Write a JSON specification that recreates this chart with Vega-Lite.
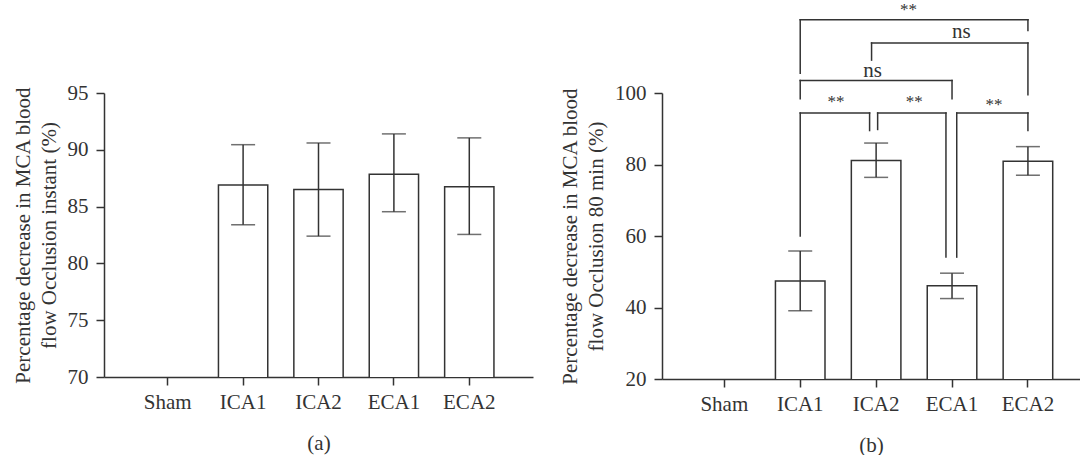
{
  "$schema": "https://vega.github.io/schema/vega-lite/v6.json",
  "background": "white",
  "padding": {"left": 11, "top": 0, "right": 0, "bottom": 0},
  "bounds": "flush",
  "spacing": 129,
  "config": {
    "font": "Liberation Serif",
    "view": {"stroke": null},
    "axis": {
      "domainColor": "#333333", "tickColor": "#333333", "labelColor": "#333333", "titleColor": "#333333",
      "labelFont": "Liberation Serif", "titleFont": "Liberation Serif",
      "labelFontSize": 21, "titleFontSize": 21, "titleFontWeight": "normal",
      "grid": false, "domainWidth": 1.5, "tickWidth": 1.5, "tickSize": 8
    }
  },
  "datasets": {
    "instant": [
      {"group": "Sham", "mean": null, "low": null, "high": null},
      {"group": "ICA1", "mean": 86.9, "low": 83.4, "high": 90.45},
      {"group": "ICA2", "mean": 86.5, "low": 82.4, "high": 90.6},
      {"group": "ECA1", "mean": 87.85, "low": 84.55, "high": 91.4},
      {"group": "ECA2", "mean": 86.75, "low": 82.55, "high": 91.05}
    ],
    "min80": [
      {"group": "Sham", "mean": null, "low": null, "high": null},
      {"group": "ICA1", "mean": 47.4, "low": 39.1, "high": 55.8},
      {"group": "ICA2", "mean": 81.1, "low": 76.4, "high": 86.0},
      {"group": "ECA1", "mean": 46.1, "low": 42.5, "high": 49.6},
      {"group": "ECA2", "mean": 80.9, "low": 77.0, "high": 85.0}
    ],
    "brackets": [
      {"pair": "ICA1-ICA2", "left": 1.0, "right": 1.914, "level": 94.4, "leftEnd": 60.0, "rightEnd": 89.5, "label": "**", "labelX": 1.471, "labelY": 97.6},
      {"pair": "ICA2-ECA1", "left": 2.02, "right": 2.92, "level": 94.4, "leftEnd": 89.8, "rightEnd": 54.1, "label": "**", "labelX": 2.503, "labelY": 97.6},
      {"pair": "ECA1-ECA2", "left": 3.062, "right": 4.0, "level": 94.4, "leftEnd": 54.1, "rightEnd": 89.5, "label": "**", "labelX": 3.553, "labelY": 96.6},
      {"pair": "ICA1-ECA1", "left": 1.0, "right": 3.0, "level": 103.5, "leftEnd": 98.4, "rightEnd": 98.4, "label": "ns", "labelX": 1.954, "labelY": 106.2},
      {"pair": "ICA2-ECA2", "left": 1.94, "right": 4.0, "level": 114.0, "leftEnd": 109.2, "rightEnd": 99.5, "label": "ns", "labelX": 3.122, "labelY": 117.1},
      {"pair": "ICA1-ECA2", "left": 1.0, "right": 4.0, "level": 120.5, "leftEnd": 105.5, "rightEnd": 117.5, "label": "**", "labelX": 2.428, "labelY": 123.3}
    ]
  },
  "hconcat": [
    {
      "width": 429,
      "height": 284,
      "data": {"name": "instant"},
      "encoding": {
        "x": {
          "field": "group", "type": "nominal", "sort": null,
          "scale": {"domain": ["Sham", "ICA1", "ICA2", "ECA1", "ECA2"], "paddingInner": 0.346, "paddingOuter": 0.518},
          "axis": {"title": "(a)", "labelAngle": 0, "labelPadding": 6, "titlePadding": 20}
        }
      },
      "layer": [
        {
          "mark": {"type": "bar", "fill": "white", "stroke": "#333333", "strokeWidth": 1.5, "clip": true},
          "encoding": {
            "y": {
              "field": "mean", "type": "quantitative",
              "scale": {"domain": [70, 95], "zero": false, "nice": false},
              "axis": {"title": ["Percentage decrease in MCA blood", "flow Occlusion instant (%)"], "values": [70, 75, 80, 85, 90, 95], "labelPadding": 8, "titlePadding": 8, "titleLineHeight": 26}
            }
          }
        },
        {
          "mark": {"type": "rule", "color": "#333333", "strokeWidth": 1.5},
          "encoding": {
            "y": {"field": "low", "type": "quantitative"},
            "y2": {"field": "high"}
          }
        },
        {
          "mark": {"type": "tick", "color": "#333333", "thickness": 1.5, "size": 24},
          "encoding": {"y": {"field": "low", "type": "quantitative"}}
        },
        {
          "mark": {"type": "tick", "color": "#333333", "thickness": 1.5, "size": 24},
          "encoding": {"y": {"field": "high", "type": "quantitative"}}
        }
      ]
    },
    {
      "width": 418,
      "height": 286,
      "resolve": {"scale": {"x": "independent"}},
      "layer": [
        {
          "data": {"name": "min80"},
          "encoding": {
            "x": {
              "field": "group", "type": "nominal", "sort": null,
              "scale": {"domain": ["Sham", "ICA1", "ICA2", "ECA1", "ECA2"], "paddingInner": 0.347, "paddingOuter": 0.427, "align": 0.579},
              "axis": {"title": "(b)", "labelAngle": 0, "labelPadding": 6, "titlePadding": 20}
            }
          },
          "layer": [
            {
              "mark": {"type": "bar", "fill": "white", "stroke": "#333333", "strokeWidth": 1.5, "clip": true},
              "encoding": {
                "y": {
                  "field": "mean", "type": "quantitative",
                  "scale": {"domain": [20, 100], "zero": false, "nice": false},
                  "axis": {"title": ["Percentage decrease in MCA blood", "flow Occlusion 80 min (%)"], "values": [20, 40, 60, 80, 100], "labelPadding": 8, "titlePadding": 8, "titleLineHeight": 26}
                }
              }
            },
            {
              "mark": {"type": "rule", "color": "#333333", "strokeWidth": 1.5},
              "encoding": {
                "y": {"field": "low", "type": "quantitative"},
                "y2": {"field": "high"}
              }
            },
            {
              "mark": {"type": "tick", "color": "#333333", "thickness": 1.5, "size": 24},
              "encoding": {"y": {"field": "low", "type": "quantitative"}}
            },
            {
              "mark": {"type": "tick", "color": "#333333", "thickness": 1.5, "size": 24},
              "encoding": {"y": {"field": "high", "type": "quantitative"}}
            }
          ]
        },
        {
          "data": {"name": "brackets"},
          "layer": [
            {
              "mark": {"type": "rule", "color": "#333333", "strokeWidth": 1.5, "strokeCap": "square"},
              "encoding": {
                "x": {"field": "left", "type": "quantitative", "scale": {"domain": [-0.821, 4.686], "nice": false, "zero": false}, "axis": null},
                "x2": {"field": "right"},
                "y": {"field": "level", "type": "quantitative"}
              }
            },
            {
              "mark": {"type": "rule", "color": "#333333", "strokeWidth": 1.5, "strokeCap": "square"},
              "encoding": {
                "x": {"field": "left", "type": "quantitative"},
                "y": {"field": "leftEnd", "type": "quantitative"},
                "y2": {"field": "level"}
              }
            },
            {
              "mark": {"type": "rule", "color": "#333333", "strokeWidth": 1.5, "strokeCap": "square"},
              "encoding": {
                "x": {"field": "right", "type": "quantitative"},
                "y": {"field": "rightEnd", "type": "quantitative"},
                "y2": {"field": "level"}
              }
            },
            {
              "transform": [{"filter": "datum.label === '**'"}],
              "mark": {"type": "text", "fontSize": 17, "baseline": "middle", "align": "center", "fill": "#333333", "font": "Liberation Serif"},
              "encoding": {
                "x": {"field": "labelX", "type": "quantitative"},
                "y": {"field": "labelY", "type": "quantitative"},
                "text": {"field": "label"}
              }
            },
            {
              "transform": [{"filter": "datum.label === 'ns'"}],
              "mark": {"type": "text", "fontSize": 21, "baseline": "middle", "align": "center", "fill": "#333333", "font": "Liberation Serif"},
              "encoding": {
                "x": {"field": "labelX", "type": "quantitative"},
                "y": {"field": "labelY", "type": "quantitative"},
                "text": {"field": "label"}
              }
            }
          ]
        }
      ]
    }
  ]
}
